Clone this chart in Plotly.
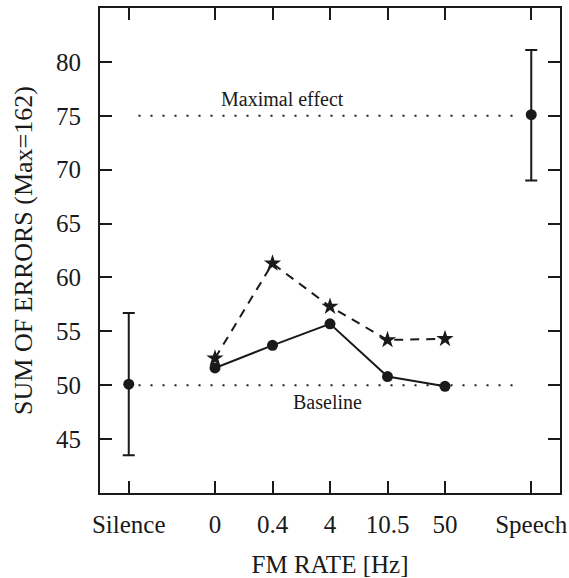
import plotly.graph_objects as go

# Categories and their numeric positions on the x axis
categories = ["Silence", "0", "0.4", "4", "10.5", "50", "Speech"]
cat_pos = [-1.5, 0, 1, 2, 3, 4, 5.5]

# FM conditions (positions of 0 ... 50)
fm_pos = [0, 1, 2, 3, 4]
solid_vals = [51.6, 53.7, 55.7, 50.8, 49.9]
star_vals = [52.5, 61.3, 57.3, 54.2, 54.3]

# Reference conditions
silence_val = 50.1
silence_err_plus = 6.6
silence_err_minus = 6.6
speech_val = 75.1
speech_err_plus = 6.0
speech_err_minus = 6.1

baseline_level = 50
max_effect_level = 75
ref_line_x = [-1.33, 5.28]

yticks = [45, 50, 55, 60, 65, 70, 75, 80]

INK = "#1a1a1a"
FONT = "Liberation Serif"

fig = go.Figure()

# dotted reference lines
for lvl in [baseline_level, max_effect_level]:
    fig.add_trace(go.Scatter(x=ref_line_x, y=[lvl, lvl], mode="lines",
                             line=dict(color=INK, width=2, dash="2px,10px"),
                             showlegend=False, hoverinfo="skip"))

# dashed star series
fig.add_trace(go.Scatter(x=fm_pos, y=star_vals, mode="lines+markers",
                         line=dict(color=INK, width=2, dash="9px,7px"),
                         marker=dict(symbol="star", size=13, color=INK),
                         showlegend=False))

# solid circle series
fig.add_trace(go.Scatter(x=fm_pos, y=solid_vals, mode="lines+markers",
                         line=dict(color=INK, width=2),
                         marker=dict(symbol="circle", size=11, color=INK),
                         showlegend=False))

# silence & speech with error bars
fig.add_trace(go.Scatter(x=[cat_pos[0], cat_pos[-1]], y=[silence_val, speech_val],
                         mode="markers",
                         marker=dict(symbol="circle", size=11, color=INK),
                         error_y=dict(type="data", symmetric=False,
                                      array=[silence_err_plus, speech_err_plus],
                                      arrayminus=[silence_err_minus, speech_err_minus],
                                      color=INK, thickness=2, width=6),
                         showlegend=False))

fig.add_annotation(x=1.18, y=76.6, text="Maximal effect", showarrow=False,
                   font=dict(family=FONT, size=20, color=INK))
fig.add_annotation(x=1.95, y=48.4, text="Baseline", showarrow=False,
                   font=dict(family=FONT, size=20, color=INK))

fig.update_layout(
    width=569, height=578,
    margin=dict(l=100, r=9, t=8, b=85),
    paper_bgcolor="white", plot_bgcolor="white",
    font=dict(family=FONT, size=25, color=INK),
)

fig.update_xaxes(
    range=[-2, 6], tickmode="array", tickvals=cat_pos, ticktext=categories,
    ticks="inside", ticklen=12, tickwidth=2, tickcolor=INK,
    showline=True, linewidth=2, linecolor=INK, mirror="allticks",
    showgrid=False, zeroline=False, automargin=False,
    ticklabelstandoff=8,
    tickfont=dict(family=FONT, size=25),
    title=dict(text="FM RATE [Hz]", standoff=20, font=dict(family=FONT, size=25)),
)
fig.update_yaxes(
    range=[40, 85], tickmode="array", tickvals=yticks,
    ticks="inside", ticklen=12, tickwidth=2, tickcolor=INK,
    showline=True, linewidth=2, linecolor=INK, mirror="allticks",
    showgrid=False, zeroline=False, automargin=False,
    ticklabelstandoff=12,
    tickfont=dict(family=FONT, size=25),
    title=dict(text="SUM OF ERRORS (Max=162)", standoff=16, font=dict(family=FONT, size=26)),
)

fig.write_html("out.html")
